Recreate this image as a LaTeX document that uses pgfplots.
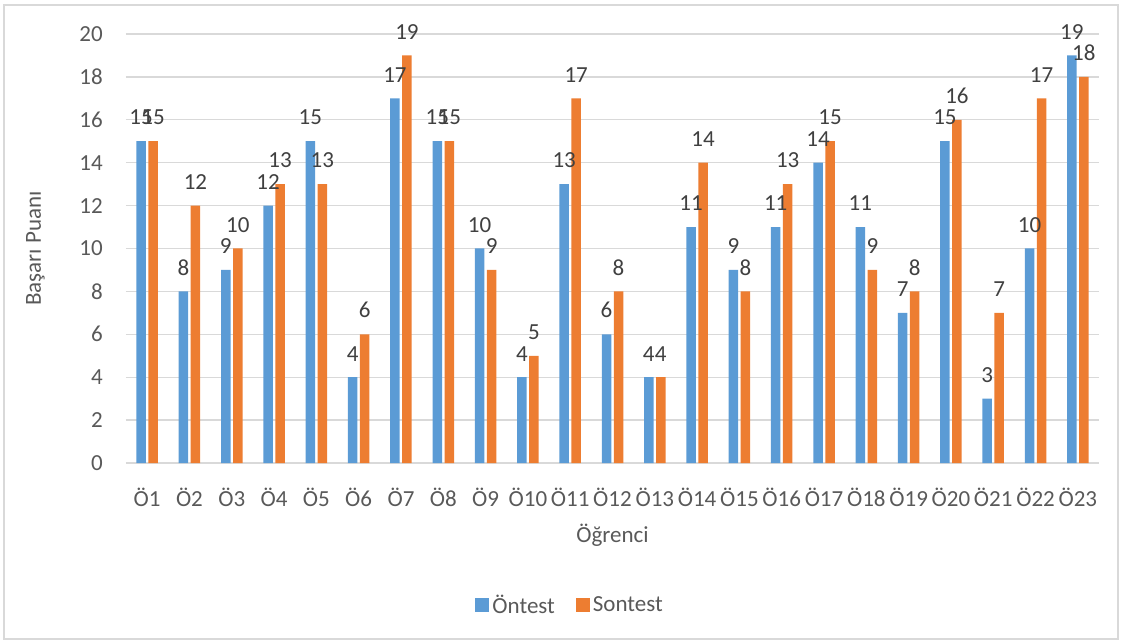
\documentclass[border=0pt]{standalone}
\usepackage{pgfplots}
\pgfplotsset{compat=1.18}
\usepackage{fontspec}
\setmainfont{Carlito}
\definecolor{blu}{HTML}{5B9BD5}
\definecolor{org}{HTML}{ED7D31}
\definecolor{txt}{HTML}{595959}
\definecolor{lbl}{HTML}{404040}
\definecolor{grd}{HTML}{D9D9D9}
\pgfplotsset{/pgf/number format/assume math mode=true}
\newcommand{\cf}{\fontsize{23pt}{27pt}\selectfont}
\begin{document}
\begin{tikzpicture}[x=1pt,y=1pt]
\useasboundingbox (-126,-179) rectangle (995,463);
\draw[grd, line width=1.2pt] (-122,-176) rectangle (992,458);
\begin{axis}[
  at={(0,0)}, anchor=south west, scale only axis,
  width=973pt, height=429pt,
  ymin=0, ymax=20, ytick={0,2,...,20},
  xmin=0.5, xmax=23.5, xtick={1,...,23},
  xticklabels={Ö1,Ö2,Ö3,Ö4,Ö5,Ö6,Ö7,Ö8,Ö9,Ö10,Ö11,Ö12,Ö13,Ö14,Ö15,Ö16,Ö17,Ö18,Ö19,Ö20,Ö21,Ö22,Ö23},
  ybar, bar width=9.5pt,
  axis x line*=bottom, axis y line*=left,
  y axis line style={draw=none},
  x axis line style={grd, line width=1.3pt, -},
  tick style={draw=none},
  ymajorgrids, grid style={grd, line width=1.3pt},
  tick label style={font=\cf, text=txt},
  yticklabel style={inner sep=0pt, anchor=east, xshift=-23pt},
  xticklabel style={inner sep=0pt, anchor=base, yshift=-39pt},
  ylabel={Başarı Puanı}, xlabel={Öğrenci},
  label style={font=\cf, text=txt},
  ylabel style={at={(axis description cs:-0.093,0.5)}, anchor=center, rotate=0},
  xlabel style={at={(axis description cs:0.5,-0.168)}, anchor=center},
  nodes near coords,
  every node near coord/.append style={font=\cf, text=lbl, inner sep=0pt, anchor=south, yshift=16pt},
  legend columns=2,
  legend style={draw=none, fill=none, font=\cf, text=txt,
    at={(axis description cs:0.457,-0.331)}, anchor=center,
    /tikz/every even column/.append style={column sep=18pt},
    nodes={inner xsep=3pt, inner ysep=0pt}},
  clip=false,
]
\addplot[fill=blu, draw=none, bar shift=-6pt,
  legend image code/.code={\fill[blu] (0pt,-7pt) rectangle (14pt,7pt);}]
  coordinates {(1,15) (2,8) (3,9) (4,12) (5,15) (6,4) (7,17) (8,15) (9,10) (10,4) (11,13) (12,6) (13,4) (14,11) (15,9) (16,11) (17,14) (18,11) (19,7) (20,15) (21,3) (22,10) (23,19)};
\addlegendentry{Öntest}
\addplot[fill=org, draw=none, bar shift=6pt,
  legend image code/.code={\fill[org] (0pt,-7pt) rectangle (14pt,7pt);}]
  coordinates {(1,15) (2,12) (3,10) (4,13) (5,13) (6,6) (7,19) (8,15) (9,9) (10,5) (11,17) (12,8) (13,4) (14,14) (15,8) (16,13) (17,15) (18,9) (19,8) (20,16) (21,7) (22,17) (23,18)};
\addlegendentry{Sontest}
\end{axis}
\end{tikzpicture}
\end{document}
